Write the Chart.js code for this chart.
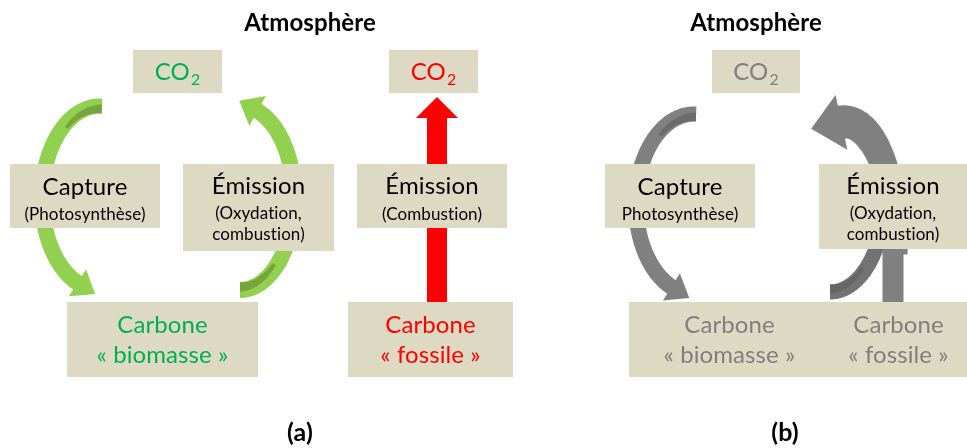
<!DOCTYPE html>
<html lang="fr">
<head>
<meta charset="utf-8">
<script src="https://cdn.jsdelivr.net/npm/chart.js@4.4.0/dist/chart.umd.min.js"></script>
<style>
    html, body { margin: 0; padding: 0; background: #ffffff; }
    #wrap { width: 967px; height: 448px; }
</style>
</head>
<body>
<div id="wrap"><canvas id="diagram" width="967" height="448"></canvas></div>
<script>
// --- DONNÉES DU SCHÉMA (unités du repère : x 0..967, y 0..448 vers le bas) ---
const FONT = 'Lato, "Open Sans", sans-serif';

// boîtes : bord gauche, bord droit, haut, bas
const boxLeft   = [133, 389, 712,  10, 183, 357,  67, 348, 605, 819, 629, 830];
const boxRight  = [222, 478, 800, 160, 334, 507, 258, 513, 755, 967, 830, 967];
const boxTop    = [ 50,  50,  50, 164, 164, 164, 302, 302, 164, 164, 302, 302];
const boxBottom = [ 93,  93,  93, 228, 251, 228, 377, 377, 228, 249, 377, 377];

// textes de chaque boîte : [texte, ligne de base, taille]
const boxLines = [
    [['CO2', 80, 24]],
    [['CO2', 80, 24]],
    [['CO2', 80, 24]],
    [['Capture', 195, 24], ['(Photosynthèse)', 220, 17]],
    [['Émission', 194, 24], ['(Oxydation,', 219, 17], ['combustion)', 240, 17]],
    [['Émission', 194, 24], ['(Combustion)', 220, 17]],
    [['Carbone', 333, 24], ['« biomasse »', 363, 24]],
    [['Carbone', 333, 24], ['« fossile »', 363, 24]],
    [['Capture', 195, 24], ['Photosynthèse)', 220, 17]],
    [['Émission', 194, 24], ['(Oxydation,', 219, 17], ['combustion)', 240, 17]],
    [['Carbone', 333, 24], ['« biomasse »', 363, 24]],
    [['Carbone', 333, 24], ['« fossile »', 363, 24]]
];
const boxTextColor = ['#00B050', '#FF0000', '#7F7F7F', '#000000', '#000000', '#000000',
                      '#00B050', '#FF0000', '#000000', '#000000', '#7F7F7F', '#7F7F7F'];

// titres et légendes : texte, centre x, ligne de base, taille
const titleText = ['Atmosphère', 'Atmosphère', '(a)', '(b)'];
const titleX    = [310, 756, 300, 785];
const titleY    = [31, 31, 441, 441];
const titleSize = [24, 24, 25, 25];

// flèches courbes (arcs d'ellipse, angles en degrés, parcourus en sens décroissant)
// w : épaisseur au départ, w2 : épaisseur à l'arrivée
const arcs = [
    // (a) capture : CO2 -> biomasse
    { cx: 100, cy: 198, rx: 58, ry: 92, from: -88, to: -248, w: 15, w2: 16, color: '#92D050',
      dark: '#76A53A', darkTo: -128, head: [20, 16] },
    // (a) émission : biomasse -> CO2
    { cx: 240, cy: 198, rx: 54, ry: 92, from: 90, to: -72, w: 16, w2: 16, color: '#92D050',
      dark: '#76A53A', darkTo: 48, head: [20, 17] },
    // (b) capture
    { cx: 694, cy: 204, rx: 58, ry: 90, from: -88, to: -248, w: 15, w2: 16, color: '#808080',
      dark: '#6B6B6B', darkTo: -128, head: [20, 16] },
    // (b) émission biomasse (fond plus sombre)
    { cx: 830, cy: 200, rx: 54, ry: 92, from: 90, to: -20, w: 15, w2: 15, color: '#737373',
      dark: '#666666', darkTo: 50, head: null },
    // (b) émission fossile, grosse flèche
    { cx: 845, cy: 250, rx: 52, ry: 128, from: 2, to: -95, w: 21, w2: 34, color: '#808080',
      dark: null, darkTo: 0, head: [30, 28] }
];

// flèches droites : départ, arrivée, épaisseur, couleur, pointe [longueur, demi-largeur]
const straightArrows = [
    { x0: 437, y0: 302, x1: 437, y1: 117, w: 20, color: '#FF0000', head: [20, 21] },
    { x0: 893, y0: 306, x1: 893, y1: 246, w: 21, color: '#808080', head: null }
];

const BOX_FILL = '#DDD9C3';

// --- PLUGIN DE DESSIN ---
const diagramPlugin = {
    id: 'diagram',
    afterDraw(chart) {
        const c = chart.ctx;
        const xs = chart.scales.x, ys = chart.scales.y;
        const px = v => xs.getPixelForValue(v);
        const py = v => ys.getPixelForValue(v);
        const lx = d => px(d) - px(0);
        const ly = d => py(d) - py(0);
        const rad = d => d * Math.PI / 180;

        const head = (x, y, dx, dy, len, half, color) => {
            const n = Math.hypot(dx, dy);
            dx /= n; dy /= n;
            c.fillStyle = color;
            c.beginPath();
            c.moveTo(x - dx + (-dy) * half, y - dy + dx * half);
            c.lineTo(x + dx * len, y + dy * len);
            c.lineTo(x - dx - (-dy) * half, y - dy - dx * half);
            c.closePath();
            c.fill();
        };

        // bande courbe d'épaisseur variable le long d'un arc d'ellipse
        const band = (cx, cy, rx, ry, a0, a1, w0, w1, color) => {
            const steps = 80, outer = [], inner = [];
            for (let k = 0; k <= steps; k++) {
                const f = k / steps;
                const t = a0 + (a1 - a0) * f;
                const x = cx + rx * Math.cos(t), y = cy + ry * Math.sin(t);
                let nx = ry * Math.cos(t), ny = rx * Math.sin(t);
                const n = Math.hypot(nx, ny);
                nx /= n; ny /= n;
                const hw = (w0 + (w1 - w0) * f) / 2;
                outer.push([x + nx * hw, y + ny * hw]);
                inner.push([x - nx * hw, y - ny * hw]);
            }
            c.fillStyle = color;
            c.beginPath();
            outer.forEach(([x, y], k) => k ? c.lineTo(x, y) : c.moveTo(x, y));
            inner.reverse().forEach(([x, y]) => c.lineTo(x, y));
            c.closePath();
            c.fill();
        };

        c.save();

        // flèches courbes
        arcs.forEach(a => {
            const cx = px(a.cx), cy = py(a.cy), rx = lx(a.rx), ry = ly(a.ry);
            band(cx, cy, rx, ry, rad(a.from), rad(a.to), lx(a.w), lx(a.w2), a.color);
            if (a.dark) {
                band(cx, cy, rx - 3, ry - 3, rad(a.from), rad(a.darkTo), lx(a.w * 0.6), lx(a.w * 0.25), a.dark);
            }
            if (a.head) {
                const t = rad(a.to);
                const x = cx + rx * Math.cos(t), y = cy + ry * Math.sin(t);
                head(x, y, rx * Math.sin(t), -ry * Math.cos(t), lx(a.head[0]), lx(a.head[1]), a.color);
            }
        });

        // flèches droites
        c.lineCap = 'butt';
        straightArrows.forEach(s => {
            c.strokeStyle = s.color;
            c.lineWidth = lx(s.w);
            c.beginPath();
            c.moveTo(px(s.x0), py(s.y0));
            c.lineTo(px(s.x1), py(s.y1));
            c.stroke();
            if (s.head) {
                head(px(s.x1), py(s.y1), px(s.x1) - px(s.x0), py(s.y1) - py(s.y0),
                     lx(s.head[0]), lx(s.head[1]), s.color);
            }
        });

        // boîtes et textes
        c.textBaseline = 'alphabetic';
        if ('textRendering' in c) c.textRendering = 'optimizeSpeed';
        if ('letterSpacing' in c) c.letterSpacing = '0.1px';
        boxLeft.forEach((l, i) => {
            const x0 = px(l), x1 = px(boxRight[i]);
            const y0 = py(boxTop[i]), y1 = py(boxBottom[i]);
            c.fillStyle = BOX_FILL;
            c.fillRect(x0, y0, x1 - x0, y1 - y0);

            const mid = (x0 + x1) / 2;
            c.fillStyle = boxTextColor[i];
            boxLines[i].forEach(([txt, base, size]) => {
                if (txt === 'CO2') {
                    // CO avec indice 2
                    c.font = `${size}px ${FONT}`;
                    const wCO = c.measureText('CO').width;
                    c.font = `${size * 0.66}px ${FONT}`;
                    const w2 = c.measureText('2').width;
                    const start = mid - (wCO + 1 + w2) / 2;
                    c.textAlign = 'left';
                    c.font = `${size}px ${FONT}`;
                    c.fillText('CO', start, py(base));
                    c.font = `${size * 0.66}px ${FONT}`;
                    c.fillText('2', start + wCO + 1, py(base + 5));
                } else {
                    c.textAlign = 'center';
                    c.font = `${size}px ${FONT}`;
                    c.fillText(txt, mid, py(base));
                }
            });
        });

        // titres
        c.fillStyle = '#000000';
        c.textAlign = 'center';
        titleText.forEach((t, i) => {
            c.font = `bold ${titleSize[i]}px ${FONT}`;
            c.fillText(t, px(titleX[i]), py(titleY[i]));
        });
        c.restore();
    }
};

// --- GRAPHIQUE ---
const ctx = document.getElementById('diagram').getContext('2d');
new Chart(ctx, {
    type: 'scatter',
    data: { datasets: [] },
    options: {
        responsive: false,
        animation: false,
        events: [],
        layout: { padding: 0 },
        plugins: {
            legend: { display: false },
            tooltip: { enabled: false }
        },
        scales: {
            x: { type: 'linear', min: 0, max: 967, display: false },
            y: { type: 'linear', min: 0, max: 448, reverse: true, display: false }
        }
    },
    plugins: [diagramPlugin]
});
</script>
</body>
</html>
